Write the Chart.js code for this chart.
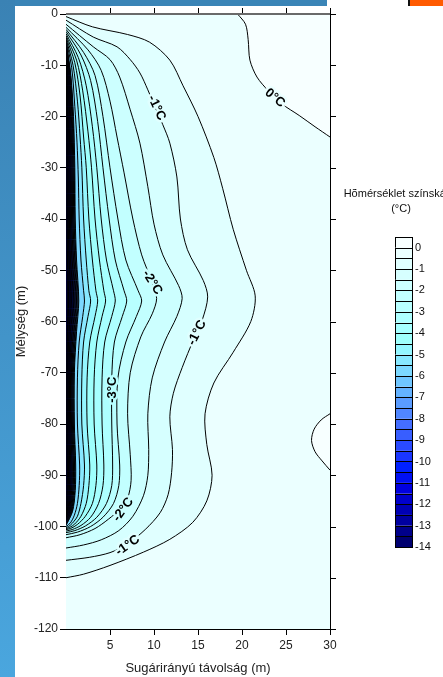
<!DOCTYPE html>
<html>
<head>
<meta charset="utf-8">
<script src="https://cdn.jsdelivr.net/npm/chart.js@4.4.0/dist/chart.umd.min.js"></script>
<style>
  html,body{margin:0;padding:0;background:#fff;}
  #page{position:relative;width:443px;height:677px;overflow:hidden;background:#fff;}
  #strip{position:absolute;left:0;top:0;width:15px;height:677px;background:linear-gradient(#3a82b4,#4aa6de);}
  #topbar{position:absolute;left:15px;top:0;width:312px;height:6px;background:#3a84b6;}
  #orange{position:absolute;left:408px;top:0;width:35px;height:6px;background:#ff5a00;border-left:2px solid #111;box-sizing:border-box;}
  canvas{position:absolute;left:0;top:0;}
</style>
</head>
<body>
<div id="page">
  <div id="strip"></div><div id="topbar"></div><div id="orange"></div>
  <canvas id="chart" width="443" height="677"></canvas>
</div>
<script>
const FONT = '"Liberation Sans", Arial, sans-serif';

// axis ticks
const xTicks = [5,10,15,20,25,30];
const yTicks = [0,-10,-20,-30,-40,-50,-60,-70,-80,-90,-100,-110,-120];
const legendTicks = [0,-1,-2,-3,-4,-5,-6,-7,-8,-9,-10,-11,-12,-13,-14];

// colour scale, warmest (>0) first, then every 0.5 °C band down to -14
const bandColors = ['#f7ffff','#ebffff','#e0ffff','#d6ffff','#ccffff','#c2ffff','#b8ffff','#aeffff',
  '#a6ffff','#9efffc','#94f6ff','#88e8ff','#7cd8ff','#70c6ff','#64b2ff','#5a9cff','#5086ff',
  '#446eff','#385eff','#2a4aff','#1a36ff','#0020ff','#0010f4','#0000e0','#0000cc','#0000b4',
  '#0000a0','#00008a','#000070'];

// 0 °C line (top right) and the small closed 0 °C bump at the right edge
const line0 = [[19.5,0],[20.4,-2],[20.7,-5],[20.9,-9],[21.7,-12.3],[23,-15],[24.5,-17.5],[26.5,-19.8],[28.3,-22],[30,-24]];
const bump0 = [[30,-78],[29,-79.2],[28.2,-81],[27.9,-83.2],[28.3,-85.4],[29.1,-87.2],[30,-89]];

// contour lines -0.5 ... -5.5 °C  [x (m), depth (m)]
const line05 = [[0,-0.5],[3,-2.5],[7,-4],[9.5,-5.5],[11.8,-9],[13.3,-14],[15,-20],[16.8,-28],[17.8,-34],[19,-42],[20.5,-50],[21.5,-55],[21,-60],[19,-66],[16.8,-72],[15.8,-78],[16,-84],[16.6,-90],[16,-95],[14.4,-99.2],[11.8,-102.5],[8.8,-105],[5,-107.6],[2,-109.3],[0,-110]];
const line10 = [[0,-1.2],[3.1,-4.5],[5.8,-6.4],[7.3,-8.9],[8.4,-11.5],[9.3,-14.8],[10.2,-18.5],[11,-21.6],[11.8,-25.2],[12.6,-31.8],[13,-40],[13.8,-46],[15.6,-52],[16.1,-55.2],[15.5,-59.6],[14.5,-63.5],[13.2,-69],[12.2,-74],[11.8,-78.6],[12.1,-85],[12,-89.5],[11.6,-93.8],[10.7,-97.3],[9,-100.6],[6.9,-103.5],[5,-105.1],[2.7,-106],[0,-106.6]];
const line15 = [[0,-2],[3.1,-6.4],[5,-8.9],[6.1,-12.3],[7.3,-18.7],[8.4,-25.2],[9.3,-33.7],[10,-41],[11,-47],[12.8,-53],[13.2,-55.5],[12.6,-59],[11.2,-64],[9.8,-71],[9.3,-78],[9.4,-85],[9.3,-90],[8.8,-94],[7.6,-98],[6,-100.8],[4,-102.6],[2,-103.6],[0,-104.2]];
const line20 = [[0,-2.6],[2.5,-7],[4,-11],[5,-17],[5.8,-24],[6.6,-31],[7.6,-40],[8.6,-47],[9.8,-52.4],[10.3,-55.5],[9.8,-58.5],[8.5,-63],[7.3,-70],[7,-78],[7.3,-86],[7.4,-91],[7,-94.5],[6.2,-96.5],[4.8,-98.6],[3.3,-100.4],[1.6,-101.6],[0,-102.2]];
const line25 = [[0,-3],[2,-7.5],[3.3,-12],[4.2,-20],[5,-30],[5.9,-40],[6.8,-48],[8.2,-54],[8.6,-56],[8,-59],[6.8,-64],[5.9,-71],[5.8,-80],[6.1,-88],[6,-92],[5.4,-95.5],[4.2,-98.2],[2.8,-100],[1.3,-101.1],[0,-101.6]];
const line30 = [[0,-3.4],[1.7,-8],[2.8,-13],[3.6,-21],[4.2,-30],[4.9,-40],[5.6,-48],[6.6,-54],[6.9,-56],[6.4,-59],[5.5,-64],[5.2,-71],[5.2,-80],[5.3,-88],[5.2,-92],[4.6,-95.5],[3.5,-98.2],[2.2,-99.9],[1,-100.8],[0,-101.2]];
const line35 = [[0,-3.8],[1.4,-8.5],[2.3,-14],[3,-22],[3.5,-30],[4,-40],[4.6,-48],[5.4,-54],[5.6,-56],[5.2,-59],[4.4,-64],[4.1,-71],[4.1,-80],[4.3,-88],[4.2,-92],[3.7,-95.5],[2.8,-98.2],[1.7,-99.8],[0.7,-100.6],[0,-100.9]];
const line40 = [[0,-4.2],[1.2,-9],[1.9,-15],[2.5,-23],[2.9,-30],[3.3,-40],[3.8,-48],[4.3,-54],[4.5,-56],[4.1,-59],[3.5,-64],[3.2,-71],[3.2,-80],[3.5,-88],[3.4,-92],[3,-95.5],[2.2,-98],[1.3,-99.6],[0.5,-100.4],[0,-100.6]];
const line45 = [[0,-4.5],[1,-9.5],[1.6,-16],[2,-24],[2.3,-30],[2.6,-40],[3,-48],[3.4,-54],[3.6,-56],[3.3,-59],[2.7,-64],[2.4,-71],[2.4,-80],[2.7,-88],[2.6,-92],[2.3,-95.5],[1.7,-98],[1,-99.5],[0.4,-100.2],[0,-100.4]];
const line50 = [[0,-4.8],[0.8,-10],[1.3,-17],[1.6,-24],[1.8,-30],[2,-40],[2.3,-48],[2.6,-54],[2.8,-56],[2.5,-59],[2,-64],[1.8,-71],[1.8,-80],[2.1,-88],[2,-92],[1.7,-95.5],[1.3,-98],[0.7,-99.4],[0.3,-100],[0,-100.2]];
const line55 = [[0,-5],[0.65,-10.5],[1,-18],[1.25,-25],[1.4,-32],[1.5,-40],[1.7,-48],[2,-54],[2.1,-56],[1.9,-59],[1.5,-64],[1.3,-71],[1.3,-80],[1.55,-88],[1.5,-92],[1.3,-95.5],[0.95,-97.8],[0.5,-99.3],[0,-100]];

// packed cold contours -6 ... -14 °C next to the pile: x at shared depths
const innerDepths = [-12,-20,-30,-40,-48,-56,-62,-70,-80,-88,-93,-97];
const innerTop = [-5.2,-5.4,-5.6,-5.8,-6,-6.2,-6.4,-6.6,-6.8,-7,-7.2,-7.4,-7.6,-7.8,-8,-8.2,-8.4];
const innerBottom = [-99.8,-99.7,-99.6,-99.5,-99.4,-99.3,-99.2,-99.1,-99,-98.9,-98.8,-98.7,-98.6,-98.5,-98.4,-98.3,-98.2];
const innerX = [
  [0.55,0.85,1.0,1.05,1.2,1.45,1.2,0.95,0.95,1.1,1.05,0.75],
  [0.52,0.80,0.94,0.99,1.13,1.37,1.13,0.90,0.90,1.04,0.99,0.71],
  [0.49,0.75,0.89,0.93,1.06,1.28,1.06,0.84,0.84,0.97,0.93,0.66],
  [0.46,0.70,0.83,0.87,0.99,1.20,0.99,0.79,0.79,0.91,0.87,0.62],
  [0.42,0.66,0.77,0.81,0.93,1.12,0.93,0.73,0.73,0.85,0.81,0.58],
  [0.39,0.61,0.71,0.75,0.86,1.04,0.86,0.68,0.68,0.79,0.75,0.54],
  [0.36,0.56,0.66,0.69,0.79,0.95,0.79,0.62,0.62,0.72,0.69,0.49],
  [0.33,0.51,0.60,0.63,0.72,0.87,0.72,0.57,0.57,0.66,0.63,0.45],
  [0.30,0.46,0.54,0.57,0.65,0.79,0.65,0.52,0.52,0.60,0.57,0.41],
  [0.27,0.41,0.49,0.51,0.58,0.70,0.58,0.46,0.46,0.53,0.51,0.36],
  [0.24,0.36,0.43,0.45,0.51,0.62,0.51,0.41,0.41,0.47,0.45,0.32],
  [0.20,0.32,0.37,0.39,0.45,0.54,0.45,0.35,0.35,0.41,0.39,0.28],
  [0.17,0.27,0.31,0.33,0.38,0.46,0.38,0.30,0.30,0.35,0.33,0.24],
  [0.14,0.22,0.26,0.27,0.31,0.37,0.31,0.24,0.24,0.28,0.27,0.19],
  [0.11,0.17,0.20,0.21,0.24,0.29,0.24,0.19,0.19,0.22,0.21,0.15],
  [0.08,0.12,0.14,0.15,0.17,0.21,0.17,0.14,0.14,0.16,0.15,0.11],
  [0.05,0.07,0.09,0.09,0.10,0.12,0.10,0.08,0.08,0.09,0.09,0.06]
];

// contour labels
const labelLevel = [0,-1,-2,-1,-3,-2,-1];
const labelX = [23.75,10.3,9.8,14.9,5.3,6.5,7.0];
const labelY = [-16.4,-18.3,-52.4,-62.2,-73.3,-96.7,-103.7];
const labelAngle = [40,65,58,-63,-90,-54,-35];

const pts = a => a.map(p => ({x:p[0], y:p[1]}));

let contours = [line05,line10,line15,line20,line25,line30,line35,line40,line45,line50,line55];
innerX.forEach((row,i) => {
  contours.push([[0,innerTop[i]]].concat(innerDepths.map((d,j) => [row[j],d]), [[0,innerBottom[i]]]));
});

let datasets = [
  {data:pts(line0.concat([[30,0]])), showLine:true, fill:'shape', backgroundColor:bandColors[0], borderColor:'rgba(0,0,0,0)', borderWidth:0, tension:0, order:200},
  {data:pts(bump0), showLine:true, fill:'shape', backgroundColor:bandColors[0], borderColor:'#000', borderWidth:1, tension:0.3, order:199},
  {data:pts(line0), showLine:true, fill:false, borderColor:'#000', borderWidth:1, tension:0.3, order:198}
];
contours.forEach((c,i) => {
  datasets.push({data:pts(c), showLine:true, fill:'shape', backgroundColor:bandColors[i+2],
    borderColor:'#000', borderWidth:1, tension:0.3, order:100-i});
});

const frame = {
  id:'frame',
  beforeDatasetsDraw(chart){
    const {ctx, chartArea:a} = chart;
    ctx.save();
    ctx.fillStyle = bandColors[1];
    ctx.fillRect(a.left, a.top, a.right-a.left, a.bottom-a.top);
    ctx.restore();
  },
  afterDatasetsDraw(chart){
    const {ctx, scales:{x,y}} = chart;
    ctx.save();
    ctx.font = 'bold 13px ' + FONT;
    ctx.textAlign = 'center';
    ctx.textBaseline = 'middle';
    ctx.lineJoin = 'round';
    labelLevel.forEach((lv,i) => {
      const t = lv + '°C';
      ctx.save();
      ctx.translate(x.getPixelForValue(labelX[i]), y.getPixelForValue(labelY[i]));
      ctx.rotate(labelAngle[i]*Math.PI/180);
      ctx.lineWidth = 5;
      ctx.strokeStyle = bandColors[Math.max(1,-lv*2)];
      ctx.strokeText(t,0,0);
      ctx.fillStyle = '#000';
      ctx.fillText(t,0,0);
      ctx.restore();
    });
    ctx.restore();
  },
  afterDraw(chart){
    const {ctx, chartArea:a, scales:{x,y}} = chart;
    ctx.save();
    // right border + outer ticks on top and right
    ctx.strokeStyle = '#000';
    ctx.lineWidth = 1;
    ctx.beginPath();
    ctx.moveTo(a.right+0.5, a.top);
    ctx.lineTo(a.right+0.5, a.bottom);
    xTicks.forEach(v => {
      const px = Math.round(x.getPixelForValue(v))+0.5;
      ctx.moveTo(px, a.top); ctx.lineTo(px, a.top-6);
    });
    yTicks.forEach(v => {
      const py = Math.round(y.getPixelForValue(v))+0.5;
      ctx.moveTo(a.right, py); ctx.lineTo(a.right+6, py);
    });
    ctx.stroke();
    ctx.strokeStyle = '#6a6a6a';
    ctx.lineWidth = 2;
    ctx.beginPath();
    ctx.moveTo(a.left, a.top); ctx.lineTo(a.right, a.top);
    ctx.stroke();

    // colour scale
    const lx = 395, ly = 237, lw = 17, lh = 310/29;
    ctx.fillStyle = '#111';
    ctx.font = '11px ' + FONT;
    ctx.textAlign = 'center';
    ctx.textBaseline = 'middle';
    ctx.fillText('Hõmérséklet színskála', 399, 194);
    ctx.fillText('(°C)', 401, 209);
    ctx.lineWidth = 1;
    ctx.strokeStyle = '#000';
    bandColors.forEach((c,i) => {
      ctx.fillStyle = c;
      ctx.fillRect(lx, ly+i*lh, lw, lh);
      ctx.strokeRect(lx+0.5, Math.round(ly+i*lh)+0.5, lw, Math.round(ly+(i+1)*lh)-Math.round(ly+i*lh));
    });
    ctx.fillStyle = '#111';
    ctx.textAlign = 'left';
    legendTicks.forEach((t,k) => {
      ctx.fillText(String(t), lx+lw+3, ly+(1+2*k)*lh);
    });
    ctx.restore();
  }
};

new Chart(document.getElementById('chart'), {
  type:'scatter',
  data:{datasets},
  options:{
    responsive:false,
    animation:false,
    devicePixelRatio:1,
    layout:{padding:{left:0, right:113, top:14, bottom:0}},
    elements:{point:{radius:0, hoverRadius:0}},
    plugins:{legend:{display:false}, tooltip:{enabled:false}},
    scales:{
      x:{
        type:'linear', min:0, max:30,
        afterBuildTicks:s => { s.ticks = xTicks.map(v => ({value:v})); },
        afterFit:s => { s.height = 48; },
        ticks:{font:{size:12, family:FONT}, color:'#222', padding:3},
        grid:{drawOnChartArea:false, color:'#000', tickLength:6},
        border:{color:'#000', width:1},
        title:{display:true, text:'Sugárirányú távolság (m)', font:{size:13, family:FONT}, color:'#222', padding:{top:0, bottom:1}}
      },
      y:{
        type:'linear', min:-120, max:0,
        afterBuildTicks:s => { s.ticks = yTicks.map(v => ({value:v})); },
        afterFit:s => { s.width = 66; },
        ticks:{font:{size:12, family:FONT}, color:'#222', padding:2},
        grid:{drawOnChartArea:false, color:'#000', tickLength:6},
        border:{color:'#000', width:1},
        title:{display:true, text:'Mélység (m)', font:{size:13, family:FONT}, color:'#222', padding:{top:14, bottom:0}}
      }
    }
  },
  plugins:[frame]
});
</script>
</body>
</html>
